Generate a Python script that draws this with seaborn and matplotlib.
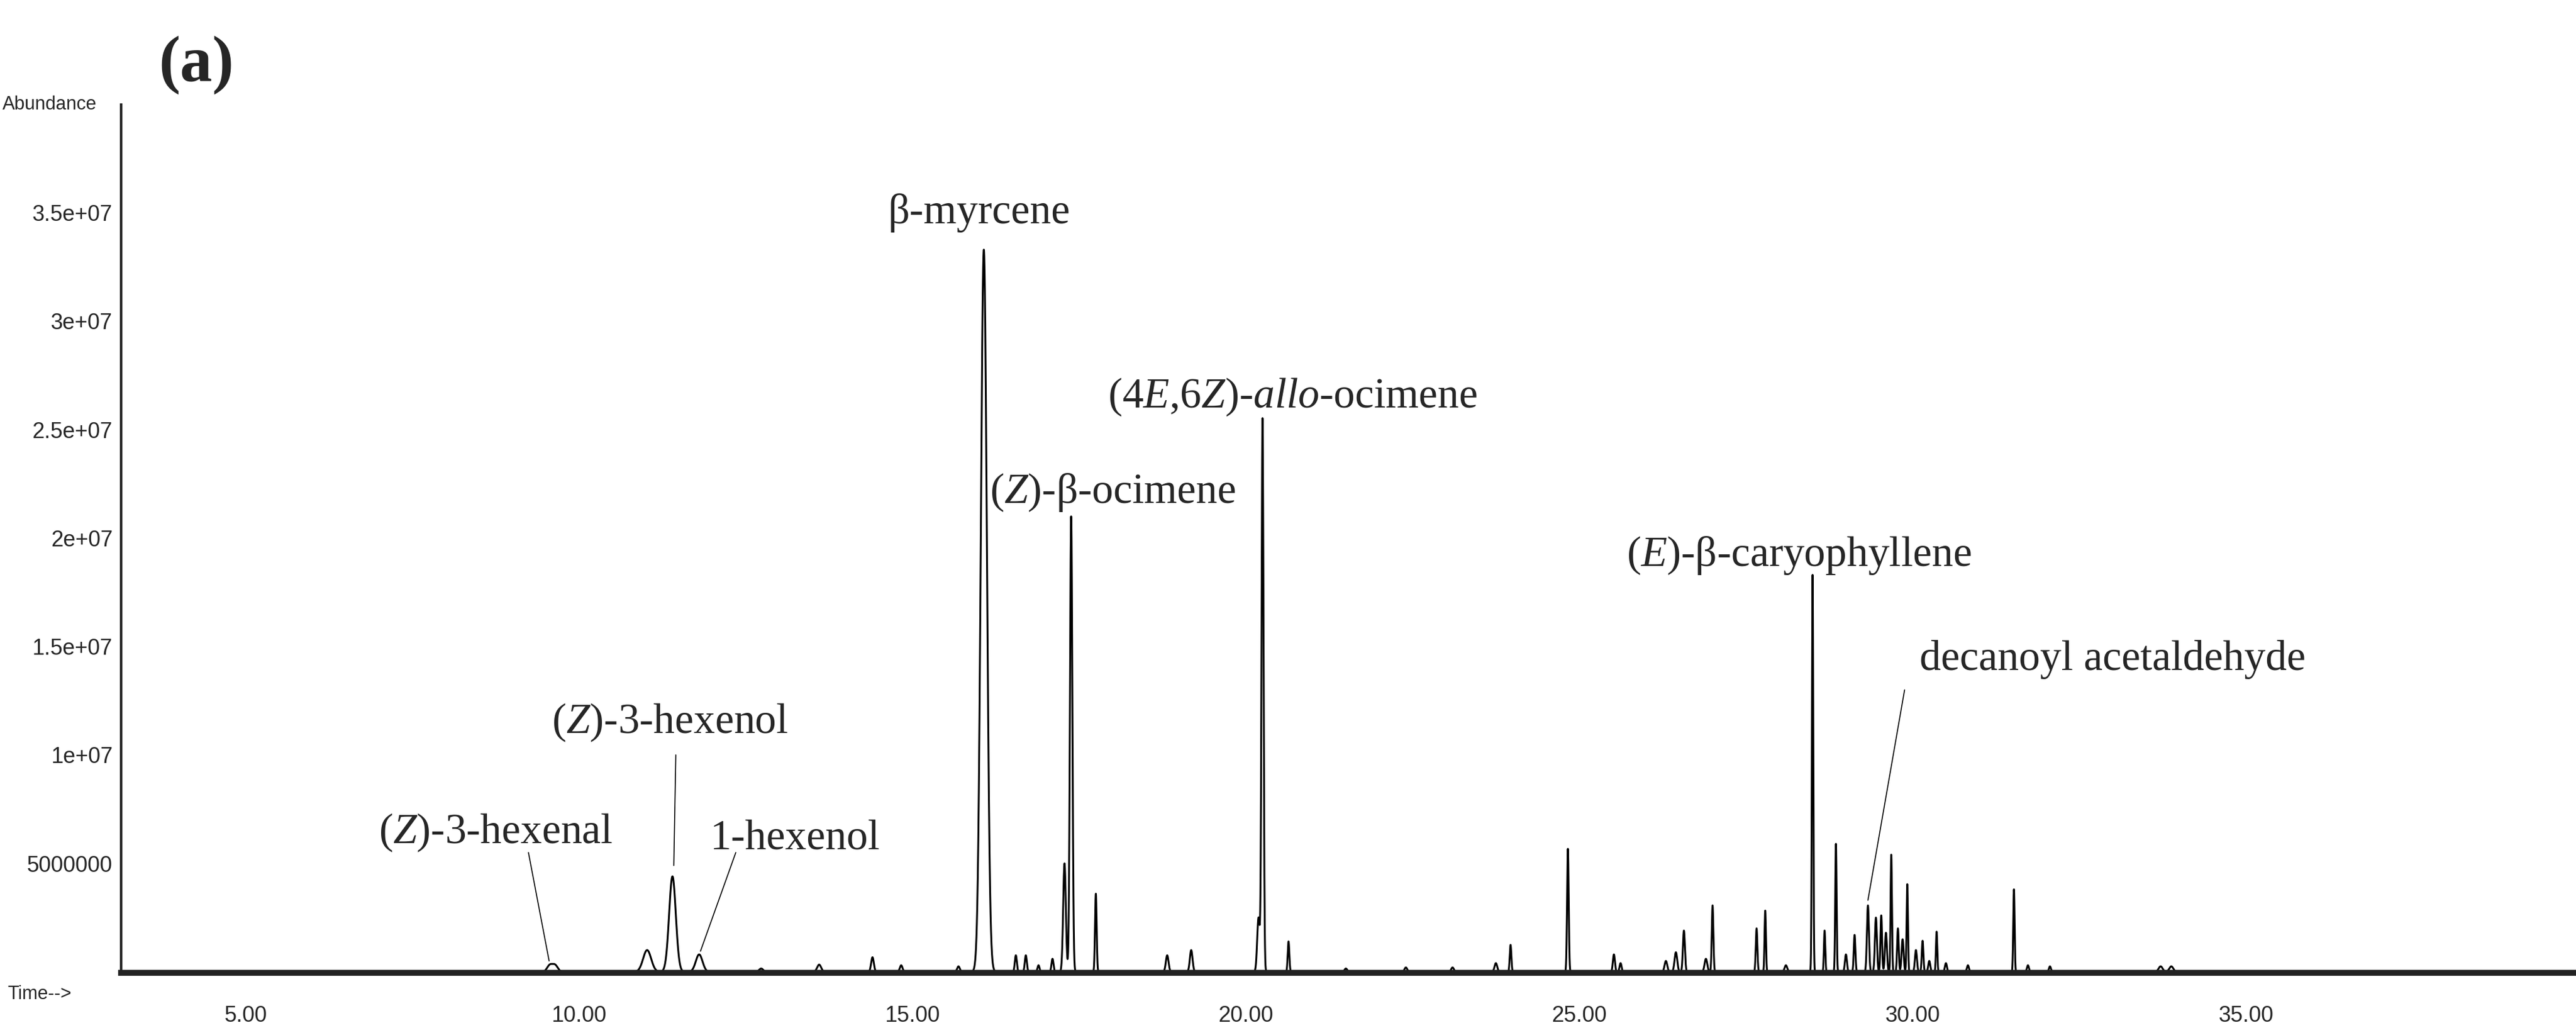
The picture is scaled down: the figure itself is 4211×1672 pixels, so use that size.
import numpy as np
import pandas as pd
import matplotlib
matplotlib.use("Agg")
import matplotlib.pyplot as plt
import seaborn as sns

# peak table: retention time (min), height (abundance), width (sigma, min)
peak_time = [9.56, 9.64, 11.02, 11.40, 11.80, 12.73, 13.60, 14.40, 14.83, 15.69, 16.07,
             16.55, 16.70, 16.89, 17.10, 17.28, 17.38, 17.75, 18.82, 19.18, 20.19, 20.25, 20.64,
             21.5, 22.4, 23.1, 23.75, 23.97, 24.83, 25.52, 25.62, 26.3, 26.45, 26.57, 26.9, 27.0,
             27.66, 27.79, 28.1, 28.50, 28.68, 28.85, 29.0, 29.13, 29.33, 29.45, 29.53, 29.60,
             29.68, 29.78, 29.85, 29.92, 30.05, 30.15, 30.25, 30.36, 30.5, 30.83, 31.52, 31.73,
             32.06, 33.72, 33.88]
peak_height = [0.30e6, 0.30e6, 1.0e6, 4.4e6, 0.8e6, 0.15e6, 0.33e6, 0.67e6, 0.3e6, 0.25e6, 3.33e7,
               0.76e6, 0.76e6, 0.3e6, 0.6e6, 5.0e6, 2.1e7, 3.6e6, 0.76e6, 1.0e6, 2.5e6, 2.55e7, 1.4e6,
               0.15e6, 0.2e6, 0.2e6, 0.4e6, 1.24e6, 5.67e6, 0.8e6, 0.4e6, 0.5e6, 0.9e6, 1.9e6, 0.6e6, 3.06e6,
               2.0e6, 2.82e6, 0.3e6, 1.83e7, 1.9e6, 5.9e6, 0.8e6, 1.7e6, 3.06e6, 2.5e6, 2.6e6, 1.8e6,
               5.4e6, 2.0e6, 1.5e6, 4.04e6, 1.0e6, 1.43e6, 0.5e6, 1.85e6, 0.4e6, 0.3e6, 3.8e6, 0.3e6,
               0.25e6, 0.25e6, 0.25e6]
peak_sigma = [0.04, 0.04, 0.06, 0.05, 0.05, 0.03, 0.03, 0.02, 0.02, 0.02, 0.045,
              0.015, 0.015, 0.015, 0.015, 0.02, 0.018, 0.012, 0.02, 0.02, 0.02, 0.015, 0.012,
              0.02, 0.02, 0.02, 0.02, 0.012, 0.012, 0.015, 0.015, 0.02, 0.02, 0.015, 0.02, 0.012,
              0.012, 0.01, 0.02, 0.01, 0.01, 0.01, 0.015, 0.012, 0.015, 0.015, 0.012, 0.015,
              0.01, 0.012, 0.015, 0.01, 0.015, 0.012, 0.015, 0.01, 0.015, 0.015, 0.01, 0.015,
              0.015, 0.03, 0.03]

x_ticks = [5, 10, 15, 20, 25, 30, 35]
y_ticks = [5e6, 1e7, 1.5e7, 2e7, 2.5e7, 3e7, 3.5e7]
y_ticklabels = ["5000000", "1e+07", "1.5e+07", "2e+07", "2.5e+07", "3e+07", "3.5e+07"]

labels = [r"($\mathit{Z}$)-3-hexenal", r"($\mathit{Z}$)-3-hexenol", "1-hexenol", "β-myrcene",
          r"($\mathit{Z}$)-β-ocimene", r"(4$\mathit{E}$,6$\mathit{Z}$)-$\mathit{allo}$-ocimene",
          r"($\mathit{E}$)-β-caryophyllene", "decanoyl acetaldehyde"]
label_x = [8.75, 11.36, 13.24, 16.0, 18.0, 20.7, 28.3, 33.0]
label_y = [6.4e6, 1.15e7, 6.1e6, 3.5e7, 2.21e7, 2.65e7, 1.92e7, 1.44e7]
leader_from = [(9.24, 5.5e6), (11.45, 1.0e7), (12.35, 5.5e6), None, None, None, None, (29.88, 1.3e7)]
leader_to = [(9.55, 0.5e6), (11.42, 4.9e6), (11.82, 0.95e6), None, None, None, None, (29.33, 3.3e6)]

t = np.linspace(3.0, 40.0, 37001)
sig = np.zeros_like(t)
for c, h, s in zip(peak_time, peak_height, peak_sigma):
    sig += h * np.exp(-0.5 * ((t - c) / s) ** 2)
df = pd.DataFrame({"time": t, "abundance": sig})

sns.set_theme(style="white")
plt.rcParams["font.family"] = ["Liberation Serif", "DejaVu Serif"]
plt.rcParams["mathtext.fontset"] = "custom"
plt.rcParams["mathtext.rm"] = "Liberation Serif"
plt.rcParams["mathtext.it"] = "Liberation Serif:italic"

fig = plt.figure(figsize=(42.11, 16.72), dpi=100)
ax = fig.add_axes([0.047, 0.049, 0.953, 0.849])
sns.lineplot(data=df, x="time", y="abundance", ax=ax, color="black", linewidth=2.2)

ax.set_xlim(3.13, 39.95)
ax.set_ylim(-0.05e6, 4.0e7)
for s in ["top", "right"]:
    ax.spines[s].set_visible(False)
ax.spines["left"].set_linewidth(3)
ax.spines["bottom"].set_linewidth(7)
ax.spines["bottom"].set_color("#222222")

tick_font = ["Liberation Sans Narrow", "Liberation Sans", "DejaVu Sans"]
ax.set_xticks(x_ticks)
ax.set_xticklabels([f"{v:.2f}" for v in x_ticks], fontsize=26, family=tick_font)
ax.set_xticks(np.arange(4, 40, 1), minor=True)
ax.set_yticks(y_ticks)
ax.set_yticklabels(y_ticklabels, fontsize=26, family=tick_font)
ax.tick_params(axis="x", which="major", length=30, width=2.5, direction="out", pad=8)
ax.tick_params(axis="x", which="minor", length=16, width=2.5, direction="out")
ax.tick_params(axis="y", which="major", length=8, width=2.5, direction="out", pad=2)
ax.set_xlabel("")
ax.set_ylabel("")

fig.text(0.001, 0.898, "Abundance", fontsize=22, family=tick_font, va="center", ha="left")
fig.text(0.003, 0.028, "Time-->", fontsize=22, family=tick_font, va="center", ha="left")
fig.text(0.0615, 0.936, "(a)", fontsize=76, fontweight="bold", va="center", ha="left")

for lab, lx, ly, lf, lt in zip(labels, label_x, label_y, leader_from, leader_to):
    ax.text(lx, ly, lab, fontsize=50, ha="center", va="center")
    if lf is not None:
        ax.plot([lf[0], lt[0]], [lf[1], lt[1]], color="black", linewidth=1.2)

fig.savefig("out.png", dpi=100, facecolor="white")
